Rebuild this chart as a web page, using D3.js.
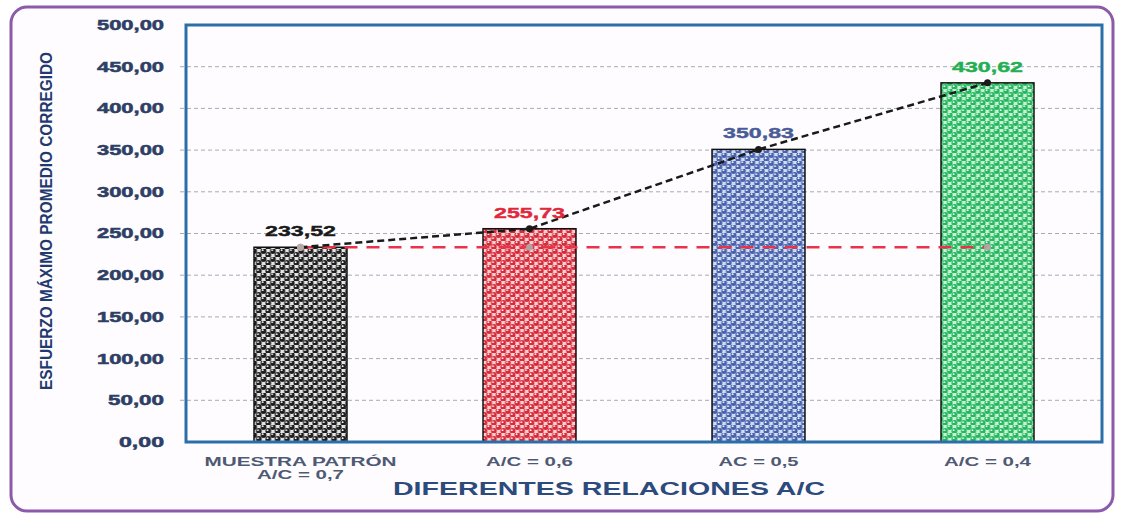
<!DOCTYPE html>
<html>
<head>
<meta charset="utf-8">
<script src="https://cdn.jsdelivr.net/npm/d3@7"></script>
<style>
  body { margin: 0; background: #fff; }
  text { font-family: "Liberation Sans", Arial, sans-serif; }
</style>
</head>
<body>
<div id="chart"></div>
<script>
// Datos del gráfico
const categories = ["MUESTRA PATRÓN|A/C = 0,7", "A/C = 0,6", "AC = 0,5", "A/C = 0,4"];
const values = [233.52, 255.73, 350.83, 430.62];
const valueLabels = ["233,52", "255,73", "350,83", "430,62"];
const baseline = [233.52, 233.52, 233.52, 233.52];
const yTicks = [0, 50, 100, 150, 200, 250, 300, 350, 400, 450, 500];

const barColors = [
  { dot: "#1e1e1e", bg: "#e6e6e6", label: "#1a1a1a" },
  { dot: "#d62c3a", bg: "#f9d0d4", label: "#e0283c" },
  { dot: "#4862ad", bg: "#d2dcf2", label: "#4a5c98" },
  { dot: "#25b85c", bg: "#c8f2d8", label: "#22b050" }
];

const width = 1125, height = 516;
const margin = { top: 25, right: 23, bottom: 74, left: 186 };
const plotW = width - margin.left - margin.right;
const plotH = height - margin.top - margin.bottom;

const svg = d3.select("#chart").append("svg")
  .attr("width", width)
  .attr("height", height);

// marco exterior
svg.append("rect")
  .attr("x", 11).attr("y", 7)
  .attr("width", 1102).attr("height", 504)
  .attr("rx", 16)
  .attr("fill", "#fefcfe")
  .attr("stroke", "#8b5aa9")
  .attr("stroke-width", 3);

// patrones de puntos
const defs = svg.append("defs");
barColors.forEach((c, i) => {
  const p = defs.append("pattern")
    .attr("id", "dots" + i)
    .attr("patternUnits", "userSpaceOnUse")
    .attr("width", 9.4).attr("height", 8);
  p.append("rect").attr("width", 9.4).attr("height", 8).attr("fill", c.bg);
  [[2.35, 2], [7.05, 6], [11.75, 2], [-2.35, 6]].forEach(([cx, cy]) => {
    p.append("circle").attr("cx", cx).attr("cy", cy).attr("r", 2.9).attr("fill", c.dot);
    p.append("circle").attr("cx", cx - 0.8).attr("cy", cy - 0.8).attr("r", 0.9).attr("fill", "#fff");
  });
});

const g = svg.append("g")
  .attr("transform", `translate(${margin.left},${margin.top})`);

const x = d3.scaleBand()
  .domain(categories)
  .range([0, plotW])
  .paddingInner(0.594)
  .paddingOuter(0.297);

const y = d3.scaleLinear()
  .domain([0, 500])
  .range([plotH, 0]);

// líneas de cuadrícula
g.append("g")
  .selectAll("line")
  .data(yTicks.slice(1, -1))
  .join("line")
  .attr("x1", -6).attr("x2", plotW)
  .attr("y1", d => y(d)).attr("y2", d => y(d))
  .attr("stroke", "#a4abb8")
  .attr("stroke-width", 1)
  .attr("stroke-dasharray", "4,3");

// eje Y
const yAxis = g.append("g")
  .call(d3.axisLeft(y).tickValues(yTicks).tickSize(0).tickPadding(22)
    .tickFormat(d => d3.format(".2f")(d).replace(".", ",")));
yAxis.select(".domain").remove();
yAxis.selectAll("text")
  .attr("fill", "#2e3f66")
  .attr("stroke", "#2e3f66")
  .attr("stroke-width", 0.5)
  .attr("font-size", 14)
  .attr("font-weight", "bold")
  .attr("textLength", d => d >= 100 ? 67 : (d > 0 ? 56 : 45))
  .attr("lengthAdjust", "spacingAndGlyphs");

// barras
g.selectAll(".bar")
  .data(values)
  .join("rect")
  .attr("class", "bar")
  .attr("x", (d, i) => x(categories[i]))
  .attr("y", d => y(d))
  .attr("width", x.bandwidth())
  .attr("height", d => plotH - y(d))
  .attr("fill", (d, i) => `url(#dots${i})`)
  .attr("stroke", "#111")
  .attr("stroke-width", 1.5);

// borde del área de trazado
g.append("rect")
  .attr("width", plotW).attr("height", plotH)
  .attr("fill", "none")
  .attr("stroke", "#2b6fa8")
  .attr("stroke-width", 3);

const cx = i => x(categories[i]) + x.bandwidth() / 2;

// línea roja de referencia
g.append("path")
  .datum(baseline)
  .attr("fill", "none")
  .attr("stroke", "#e8344a")
  .attr("stroke-width", 2.5)
  .attr("stroke-dasharray", "13,9")
  .attr("d", d3.line().x((d, i) => cx(i)).y(d => y(d)));

g.selectAll(".bmark")
  .data(baseline)
  .join("circle")
  .attr("class", "bmark")
  .attr("cx", (d, i) => cx(i))
  .attr("cy", d => y(d))
  .attr("r", 3.5)
  .attr("fill", (d, i) => i === 2 ? "none" : "#b0a8a8")
  .attr("opacity", 0.9);

// línea negra de tendencia
g.append("path")
  .datum(values)
  .attr("fill", "none")
  .attr("stroke", "#1a1a1a")
  .attr("stroke-width", 2.5)
  .attr("stroke-dasharray", "7,4")
  .attr("d", d3.line().x((d, i) => cx(i)).y(d => y(d)));

g.selectAll(".vmark")
  .data(values)
  .join("circle")
  .attr("class", "vmark")
  .attr("cx", (d, i) => cx(i))
  .attr("cy", d => y(d))
  .attr("r", 3.5)
  .attr("fill", (d, i) => i === 0 ? "#b8a8a8" : "#1a1a1a");

// etiquetas de valores
g.selectAll(".vlabel")
  .data(values)
  .join("text")
  .attr("class", "vlabel")
  .attr("x", (d, i) => cx(i))
  .attr("y", d => y(d) - 11)
  .attr("text-anchor", "middle")
  .attr("font-size", 15)
  .attr("font-weight", "bold")
  .attr("fill", (d, i) => barColors[i].label)
  .attr("stroke", (d, i) => barColors[i].label)
  .attr("stroke-width", 0.4)
  .attr("textLength", 71)
  .attr("lengthAdjust", "spacingAndGlyphs")
  .text((d, i) => valueLabels[i]);

// etiquetas de categorías
const xLabels = g.selectAll(".xlabel")
  .data(categories)
  .join("text")
  .attr("class", "xlabel")
  .attr("text-anchor", "middle")
  .attr("font-size", 12)
  .attr("font-weight", "bold")
  .attr("fill", "#4e5a74");
xLabels.each(function (d, i) {
  const lines = d.split("|");
  lines.forEach((ln, k) => {
    const len = ln.length > 10 ? 192 : (ln.startsWith("AC") ? 80 : 87);
    d3.select(this).append("tspan")
      .attr("x", cx(i))
      .attr("y", plotH + 24 + k * 13)
      .attr("textLength", len)
      .attr("lengthAdjust", "spacingAndGlyphs")
      .text(ln);
  });
});

// título eje X
svg.append("text")
  .attr("x", 609)
  .attr("y", 495)
  .attr("text-anchor", "middle")
  .attr("font-size", 18)
  .attr("font-weight", "bold")
  .attr("fill", "#2c4a7c")
  .attr("textLength", 432)
  .attr("lengthAdjust", "spacingAndGlyphs")
  .text("DIFERENTES RELACIONES A/C");

// título eje Y
svg.append("text")
  .attr("transform", "translate(52,221) rotate(-90)")
  .attr("text-anchor", "middle")
  .attr("font-size", 16)
  .attr("font-weight", "bold")
  .attr("fill", "#1f3a6e")
  .attr("textLength", 338)
  .attr("lengthAdjust", "spacingAndGlyphs")
  .text("ESFUERZO MÁXIMO PROMEDIO CORREGIDO");
</script>
</body>
</html>
